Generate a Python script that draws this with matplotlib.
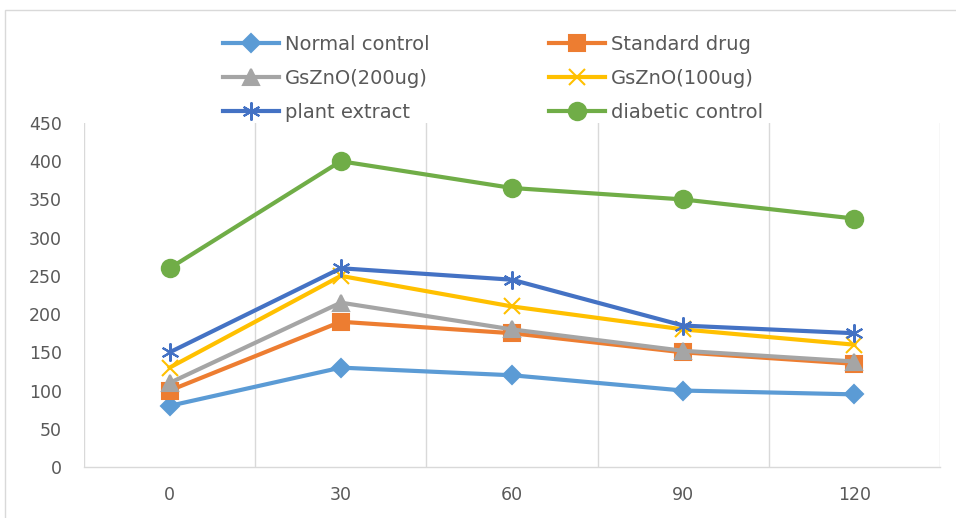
import numpy as np
import matplotlib.pyplot as plt
from matplotlib.patches import Rectangle

plt.rcParams['font.family'] = ['DejaVu Sans']

times = ['0', '30', '60', '90', '120']
normal_control = [80, 130, 120, 100, 95]
standard_drug = [100, 190, 175, 150, 135]
gszno_200 = [110, 215, 180, 152, 138]
gszno_100 = [130, 250, 210, 180, 160]
plant_extract = [150, 260, 245, 185, 175]
diabetic_control = [260, 400, 365, 350, 325]

series = [
    ('Normal control', normal_control, '#5B9BD5', 'D', 9.5),
    ('Standard drug', standard_drug, '#ED7D31', 's', 11.5),
    ('GsZnO(200ug)', gszno_200, '#A5A5A5', '^', 12),
    ('GsZnO(100ug)', gszno_100, '#FFC000', 'x', 12),
    ('plant extract', plant_extract, '#4472C4', (6, 2, 0), 13),
    ('diabetic control', diabetic_control, '#70AD47', 'o', 12.5),
]

fig = plt.figure(figsize=(9.56, 5.18), dpi=100)
ax = fig.add_axes([84/956, 1-467/518, (940-84)/956, (467-123)/518])

x = np.arange(len(times))
handles = []
for name, vals, col, mk, ms in series:
    h, = ax.plot(x, vals, color=col, lw=3, marker=mk, markersize=ms,
                 markeredgewidth=1.5, markeredgecolor=col, label=name)
    handles.append(h)

ax.set_xlim(-0.5, len(times) - 0.5)
ax.set_ylim(0, 450)
ax.set_yticks(np.arange(0, 451, 50))
ax.set_xticks(x)
ax.set_xticklabels(times)
for b in np.arange(-0.5, len(times), 1.0):
    ax.axvline(b, color='#D9D9D9', lw=1, zorder=0)
for s in ['top', 'right', 'left']:
    ax.spines[s].set_visible(False)
ax.spines['bottom'].set_color('#D9D9D9')
ax.spines['bottom'].set_linewidth(1)
ax.tick_params(length=0, labelsize=12.5, colors='#595959')
ax.tick_params(axis='x', pad=14)
ax.tick_params(axis='y', pad=16)

leg_kw = dict(frameon=False, fontsize=14, handlelength=2.9, handletextpad=0.3,
              labelspacing=0.78, borderpad=0, labelcolor='#595959', loc='upper left')
leg1 = fig.legend(handles=[handles[0], handles[2], handles[4]],
                  bbox_to_anchor=(213/956, 1-25/518), **leg_kw)
leg2 = fig.legend(handles=[handles[1], handles[3], handles[5]],
                  bbox_to_anchor=(539/956, 1-25/518), **leg_kw)

fig.patches.append(Rectangle((5/956, -0.1), 1.2, 1.1 - 10/518, transform=fig.transFigure,
                             fill=False, edgecolor='#D9D9D9', lw=1))

fig.savefig('out.png', dpi=100)
